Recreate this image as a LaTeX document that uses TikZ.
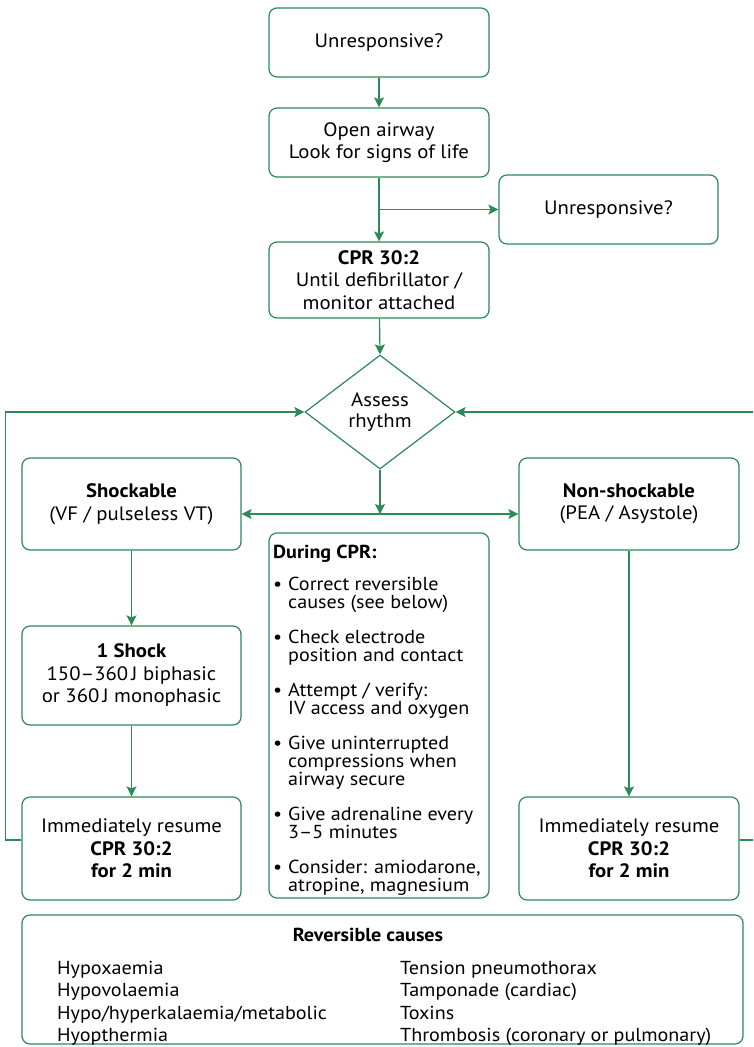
\documentclass[tikz,border=0pt]{standalone}
\usepackage{fontspec}
\setmainfont{PT Sans}[FakeStretch=1.07]
\usetikzlibrary{shapes.geometric,arrows.meta}
\definecolor{grn}{RGB}{42,138,88}
\newcommand{\bul}{\makebox[15pt][l]{•}}
\newcommand{\ind}{\hspace*{15pt}}
\tikzset{
 box/.style={draw=grn, line width=1.2pt, rounded corners=8pt, align=center, inner sep=0pt, font=\fontsize{19.4}{22.5}\selectfont},
 arr/.style={draw=grn, line width=1.2pt, -{Stealth[length=10pt,width=10pt,inset=2pt]}},
 dblarr/.style={draw=grn, line width=1.2pt, {Stealth[length=10pt,width=10pt,inset=2pt]}-{Stealth[length=10pt,width=10pt,inset=2pt]}},
 txt/.style={inner sep=0pt, align=left},
}
\begin{document}
\begin{tikzpicture}[x=1pt,y=-1pt]
\clip (0,0) rectangle (753,1047);
\fill[white] (0,0) rectangle (753,1047);
% boxes
\node[box, minimum width=220, minimum height=69] (top) at (379,42.5) {Unresponsive?};
\node[box, minimum width=220, minimum height=69] (air) at (379,142.5) {Open airway\\Look for signs of life};
\node[box, minimum width=219, minimum height=69] (unr) at (608.5,209.5) {Unresponsive?};
\node[box, minimum width=220, minimum height=76] (cpr) at (379,280) {\textbf{CPR 30:2}\\Until defibrillator /\\monitor attached};
\node[draw=grn, line width=1.2pt, diamond, minimum width=150, minimum height=114, inner sep=0pt, align=center, font=\fontsize{19.4}{21}\selectfont] (dia) at (380,412) {Assess\\rhythm};
\node[box, minimum width=219, minimum height=92] (shk) at (131.5,504) {\textbf{Shockable}\\(VF / pulseless VT)};
\node[box, minimum width=220, minimum height=92] (nsh) at (629,504) {\textbf{Non-shockable}\\(PEA / Asystole)};
\node[box, minimum width=219, minimum height=99] (one) at (131.5,675.5) {\textbf{1 Shock}\\150–360\,J biphasic\\or 360\,J monophasic};
\node[box, minimum width=219, minimum height=103] (resL) at (131.5,848.5) {Immediately resume\\\textbf{CPR 30:2}\\\textbf{for 2 min}};
\node[box, minimum width=220, minimum height=103] (resR) at (629,848.5) {Immediately resume\\\textbf{CPR 30:2}\\\textbf{for 2 min}};
\node[box, minimum width=220, minimum height=365] (mid) at (379,715.5) {};
\node[txt, anchor=north west, font=\fontsize{18.8}{18}\selectfont] (midtxt) at (273,545) {%
\textbf{During CPR:}\\[14pt]
\bul Correct reversible\\ \ind causes (see below)\\[17pt]
\bul Check electrode\\ \ind position and contact\\[17pt]
\bul Attempt / verify:\\ \ind IV access and oxygen\\[17pt]
\bul Give uninterrupted\\ \ind compressions when\\ \ind airway secure\\[17pt]
\bul Give adrenaline every\\ \ind 3–5 minutes\\[17pt]
\bul Consider: amiodarone,\\ \ind atropine, magnesium};
\node[box, minimum width=721, minimum height=129] (rev) at (382.5,979.5) {};
\node[txt, anchor=base, font=\fontsize{18.8}{22.3}\selectfont\bfseries] (revt) at (368,941) {Reversible causes};
\node[txt, anchor=north west, font=\fontsize{18.8}{22.3}\selectfont] (revl) at (57,961) {Hypoxaemia\\Hypovolaemia\\Hypo/hyperkalaemia/metabolic\\Hyopthermia};
\node[txt, anchor=north west, font=\fontsize{18.8}{22.3}\selectfont] (revr) at (400,961) {Tension pneumothorax\\Tamponade (cardiac)\\Toxins\\Thrombosis (coronary or pulmonary)};
% connectors
\draw[arr] (top) -- (air);
\draw[arr] (air) -- (cpr);
\coordinate (br) at (air.south |- unr.west);
\draw[arr] (br) -- (unr.west);
\draw[arr] (cpr) -- (dia.north);
\coordinate (jn) at (380,514);
\draw[dblarr] (shk.east |- jn) -- (nsh.west |- jn);
\draw[arr] (dia.south) -- (jn);
\draw[arr] (shk) -- (one);
\draw[arr] (one) -- (resL);
\draw[arr] (nsh) -- (resR);
\draw[arr] ([yshift=8.5pt]resL.west) -- ++(-16,0) |- (dia.west);
\draw[arr] ([yshift=8.5pt]resR.east) -- ++(20,0) |- (dia.east);
\end{tikzpicture}
\end{document}
